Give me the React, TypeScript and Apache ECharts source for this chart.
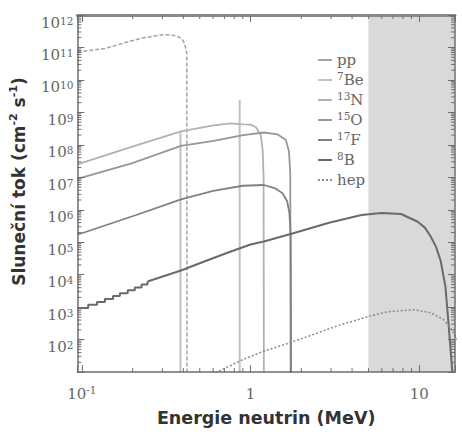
import React, { useEffect, useRef } from 'react';
import * as echarts from 'echarts';

// ---- data (energy in MeV, flux in cm^-2 s^-1 per MeV / per line) ----
const PP_E = [0.094, 0.137, 0.18, 0.214, 0.26, 0.308, 0.361, 0.39, 0.402, 0.412, 0.419, 0.42];
const PP_F = [7.2e10, 9.3e10, 1.4e11, 1.8e11, 2.2e11, 2.5e11, 2.3e11, 1.9e11, 1.45e11, 1.0e11, 6.3e10, 1];

const BE7_E = [0.384, 0.384, NaN, 0.862, 0.862];
const BE7_F = [1, 2.4e8, NaN, 1, 2.4e9];

const N13_E = [0.094, 0.197, 0.387, 0.604, 0.759, 0.904, 1.0, 1.077, 1.15, 1.18, 1.195, 1.2];
const N13_F = [2.5e7, 8.7e7, 2.6e8, 4.0e8, 4.6e8, 4.3e8, 4.2e8, 3.5e8, 2.0e8, 7.1e7, 1e7, 1];

const O15_E = [0.094, 0.197, 0.387, 0.604, 0.904, 1.2, 1.45, 1.62, 1.69, 1.72, 1.73];
const O15_F = [8.9e6, 2.7e7, 9.3e7, 1.32e8, 2.0e8, 2.4e8, 2.1e8, 1.4e8, 6.3e7, 1.3e7, 1];

const F17_E = [0.094, 0.21, 0.387, 0.6, 0.9, 1.2, 1.4, 1.55, 1.65, 1.7, 1.73, 1.74];
const F17_F = [1.7e5, 6.9e5, 2.1e6, 3.8e6, 5.5e6, 5.8e6, 4.6e6, 3.2e6, 1.8e6, 7.9e5, 1.6e5, 1];

const B8_STEP_E = [0.094, 0.109, 0.123, 0.137, 0.153, 0.168, 0.187, 0.206, 0.226, 0.245];
const B8_STEP_F = [950, 1180, 1450, 1780, 2190, 2690, 3310, 4070, 5010, 6170];

const B8_E = [0.245, 0.387, 0.527, 0.75, 1.0, 1.2, 1.77, 2.92, 4.55, 5.96, 7.8, 9.8, 10.8, 11.7, 12.6, 13.4, 14.3, 14.9, 15.7, 16.0];
const B8_F = [6170, 13500, 25100, 50100, 85100, 105000, 186000, 398000, 692000, 794000, 741000, 427000, 282000, 151000, 70800, 26900, 4370, 339, 10.7, 1];

const HEP_E = [0.5, 0.604, 0.904, 1.18, 1.77, 3.34, 5.2, 6.55, 9.29, 11.7, 13.9, 15.7, 16.8, 18.0, 18.7];
const HEP_F = [4, 8.9, 24.5, 42.7, 85, 275, 550, 725, 832, 676, 417, 195, 100, 25, 1];

const SHADE_FROM = 5; // MeV

const LEGEND_NAMES = ['pp', '7Be', '13N', '15O', '17F', '8B', 'hep'];
const LEGEND_LABELS = ['pp', '{s|7}Be', '{s|13}N', '{s|15}O', '{s|17}F', '{s|8}B', 'hep'];

const X_TICK_VALUES = [0.1, 1, 10];
const X_TICK_LABELS = ['{b|10}{s|-1}', '1', '10'];
const Y_LABEL_EXPONENTS = [2, 3, 4, 5, 6, 7, 8, 9, 10, 11, 12];

const X_MIN = 0.094;
const X_MAX = 16.3;
const Y_MIN = 10;
const Y_MAX = 1e12;

const MINOR_MULTS = [2, 3, 4, 5, 6, 7, 8, 9];
const X_MINOR_DECADES = [-1, 0];
const Y_MINOR_DECADES = [1, 2, 3, 4, 5, 6, 7, 8, 9, 10, 11];

const lg = (v: number) => (Number.isFinite(v) ? Math.log10(v) : NaN);
const pts = (e: number[], f: number[]) =>
  e.map((x, i) => (Number.isFinite(x) ? [lg(x), lg(f[i])] : ['-', '-']));

const XL = [lg(X_MIN), lg(X_MAX)];
const YL = [lg(Y_MIN), lg(Y_MAX)];

const AX = '#6e6e6e';
const SERIF = 'DejaVu Serif';
const SANS = 'DejaVu Sans';

const labelRich = {
  b: { fontFamily: SERIF, fontSize: 15, color: '#666', lineHeight: 20 },
  s: { fontFamily: SERIF, fontSize: 10.5, color: '#666', lineHeight: 8, verticalAlign: 'top' },
};

const yLabelRich = {
  b: { fontFamily: SERIF, fontSize: 15, color: '#666', lineHeight: 15 },
  s: { fontFamily: SERIF, fontSize: 10.5, color: '#666', lineHeight: 1, verticalAlign: 'top' },
};

const DOTS_ICON = 'path://M0 0h2v2H0zM4 0h2v2H4zM8 0h2v2H8zM12 0h2v2h-2z';

export default function App() {
  const ref = useRef<HTMLDivElement>(null);
  useEffect(() => {
    if (!ref.current) return;
    const chart = echarts.init(ref.current, undefined, { renderer: 'svg' });

    const xMinor = X_MINOR_DECADES.flatMap((d) => MINOR_MULTS.map((m) => m * Math.pow(10, d)));
    const yMinor = Y_MINOR_DECADES.flatMap((d) => MINOR_MULTS.map((m) => m * Math.pow(10, d)));

    const tickStyle = { stroke: AX, lineWidth: 1 };

    const lineBase = (name: string, data: any[], color: string, width: number, type: any = 'solid', extra: any = {}) => ({
      name,
      type: 'line',
      data,
      symbol: 'none',
      showSymbol: false,
      z: 2,
      lineStyle: { color, width, type },
      itemStyle: { color },
      clip: true,
      silent: true,
      ...extra,
    });

    const option: any = {
      animation: false,
      backgroundColor: '#fff',
      grid: { left: 72, right: 7, top: 15, bottom: 51 },
      legend: {
        data: LEGEND_NAMES.map((n) => ({ name: n, icon: n === 'hep' ? DOTS_ICON : 'rect' })),
        orient: 'vertical',
        left: 313,
        top: 45,
        itemWidth: 14,
        itemHeight: 2,
        itemGap: 0,
        selectedMode: false,
        formatter: (n: string) => LEGEND_LABELS[LEGEND_NAMES.indexOf(n)],
        textStyle: {
          fontFamily: SERIF,
          fontSize: 15,
          color: '#666',
          lineHeight: 20,
          rich: labelRich,
        },
      },
      xAxis: [
        {
          type: 'value',
          min: XL[0],
          max: XL[1],
          splitNumber: 2,
          position: 'bottom',
          z: 5,
          axisLine: { onZero: false, lineStyle: { color: AX, width: 1.5 } },
          axisTick: { inside: true, length: 7, lineStyle: { color: AX } },
          splitLine: { show: false },
          axisLabel: {
            margin: 12,
            fontFamily: SERIF,
            fontSize: 15,
            color: '#666',
            lineHeight: 20,
            rich: labelRich,
            formatter: (v: number) => {
              const i = X_TICK_VALUES.findIndex((t) => Math.abs(lg(t) - v) < 1e-6);
              return i >= 0 ? X_TICK_LABELS[i] : '';
            },
          },
          name: 'Energie neutrin (MeV)',
          nameLocation: 'middle',
          nameGap: 32,
          nameTextStyle: { fontFamily: SANS, fontWeight: 'bold', fontSize: 17.5, color: '#333' },
        },
        {
          type: 'value',
          min: XL[0],
          max: XL[1],
          splitNumber: 2,
          position: 'top',
          z: 5,
          axisLine: { onZero: false, lineStyle: { color: '#8a8a8a', width: 3 } },
          axisTick: { inside: true, length: 7, lineStyle: { color: AX } },
          axisLabel: { show: false },
          splitLine: { show: false },
        },
      ],
      yAxis: [
        {
          type: 'value',
          min: YL[0],
          max: YL[1],
          interval: 1,
          z: 5,
          axisLine: { onZero: false, lineStyle: { color: AX, width: 1.5 } },
          axisTick: { inside: true, length: 7, lineStyle: { color: AX } },
          splitLine: { show: false },
          axisLabel: {
            margin: 4,
            verticalAlign: 'top',
            showMaxLabel: true,
            showMinLabel: true,
            fontFamily: SERIF,
            fontSize: 15,
            color: '#666',
            lineHeight: 15,
            rich: yLabelRich,
            formatter: (v: number) => {
              const r = Math.round(v);
              if (Math.abs(v - r) > 1e-6 || Y_LABEL_EXPONENTS.indexOf(r) < 0) return '';
              return `{b|10}{s|${r}}`;
            },
          },
          name: 'Sluneční tok (cm{s|-2} s{s|-1})',
          nameLocation: 'middle',
          nameGap: 45,
          nameTextStyle: {
            fontFamily: SANS,
            fontWeight: 'bold',
            fontSize: 17,
            color: '#333',
            lineHeight: 22,
            padding: [0, 0, 0, 24],
            rich: {
              s: { fontFamily: SANS, fontWeight: 'bold', fontSize: 11, color: '#333', lineHeight: 10, verticalAlign: 'top' },
            },
          },
        },
        {
          type: 'value',
          min: YL[0],
          max: YL[1],
          interval: 1,
          position: 'right',
          z: 5,
          axisLine: { onZero: false, lineStyle: { color: AX, width: 1.5 } },
          axisTick: { inside: true, length: 7, lineStyle: { color: AX } },
          axisLabel: { show: false },
          splitLine: { show: false },
        },
      ],
      series: [
        lineBase('pp', pts(PP_E, PP_F), '#a3a3a3', 1.5, [4, 2], {
          markArea: {
            silent: true,
            z: 1,
            itemStyle: { color: '#d9d9d9' },
            data: [[{ xAxis: lg(SHADE_FROM) }, { xAxis: XL[1] }]],
          },
        }),
        lineBase('7Be', pts(BE7_E, BE7_F), '#c2c2c2', 2),
        lineBase('13N', pts(N13_E, N13_F), '#b2b2b2', 1.8),
        lineBase('15O', pts(O15_E, O15_F), '#979797', 1.8),
        lineBase('17F', pts(F17_E, F17_F), '#808080', 1.8),
        lineBase('8B', pts(B8_STEP_E, B8_STEP_F), '#6a6a6a', 2, 'solid', { step: 'end' }),
        lineBase('8B', pts(B8_E, B8_F), '#6a6a6a', 2),
        lineBase('hep', pts(HEP_E, HEP_F), '#8a8a8a', 1.5, [2, 2]),
        {
          type: 'custom',
          silent: true,
          z: 6,
          clip: false,
          data: xMinor.map((v) => [lg(v), YL[0]]),
          renderItem: (_p: any, api: any) => {
            const x = api.value(0);
            const b = api.coord([x, YL[0]]);
            const t = api.coord([x, YL[1]]);
            return {
              type: 'group',
              children: [
                { type: 'line', shape: { x1: b[0], y1: b[1], x2: b[0], y2: b[1] - 4 }, style: tickStyle },
                { type: 'line', shape: { x1: t[0], y1: t[1], x2: t[0], y2: t[1] + 4 }, style: tickStyle },
              ],
            };
          },
        },
        {
          type: 'custom',
          silent: true,
          z: 6,
          clip: false,
          data: yMinor.map((v) => [XL[0], lg(v)]),
          renderItem: (_p: any, api: any) => {
            const y = api.value(1);
            const l = api.coord([XL[0], y]);
            const r = api.coord([XL[1], y]);
            return {
              type: 'group',
              children: [
                { type: 'line', shape: { x1: l[0], y1: l[1], x2: l[0] + 4, y2: l[1] }, style: tickStyle },
                { type: 'line', shape: { x1: r[0], y1: r[1], x2: r[0] - 4, y2: r[1] }, style: tickStyle },
              ],
            };
          },
        },
      ],
    };

    chart.setOption(option);
    return () => chart.dispose();
  }, []);

  return <div ref={ref} style={{ width: 462, height: 432, position: 'absolute', left: 0, top: 0 }} />;
}
